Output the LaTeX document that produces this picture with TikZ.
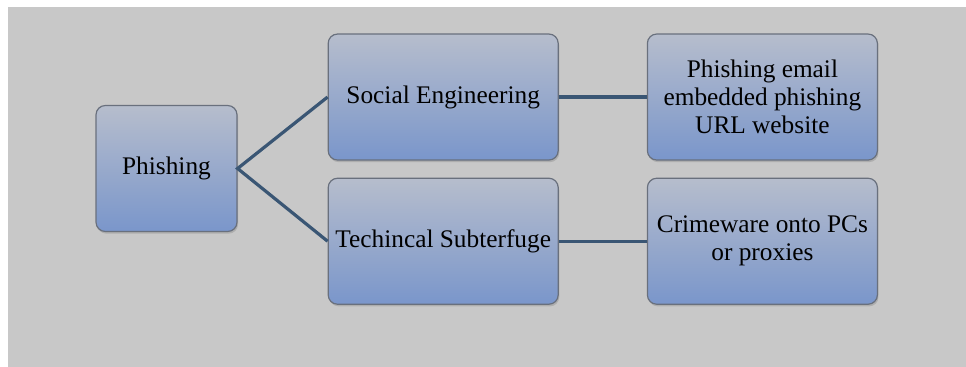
\documentclass[tikz,border=0pt]{standalone}
\usepackage{fontspec}
\setmainfont{Liberation Serif}
\usetikzlibrary{positioning, shadows}
\definecolor{boxtop}{RGB}{182,189,204}
\definecolor{boxmid}{RGB}{160,176,210}
\definecolor{boxbot}{RGB}{122,150,203}
\definecolor{boxline}{RGB}{105,112,125}
\definecolor{linkcol}{RGB}{58,86,116}
\definecolor{panel}{RGB}{200,200,200}
\tikzstyle{box} = [rectangle, rounded corners=7pt, minimum width=172.5pt, minimum height=94.5pt, align=center, text=black, draw=boxline, line width=0.9pt, top color=boxtop, middle color=boxmid, bottom color=boxbot, font=\fontsize{19}{21}\selectfont, drop shadow={opacity=0.35, shadow xshift=0.8pt, shadow yshift=-1.6pt}]
\tikzstyle{link} = [line width=2.4pt, draw=linkcol]

\begin{document}
\begin{tikzpicture}[x=0.75pt, y=-0.75pt]

    % Background panel
    \useasboundingbox (0,0) rectangle (966,367);
    \fill[white] (0,0) rectangle (966,367);
    \fill[panel] (8,7) rectangle (966,367);

    % Nodes
    \node (phishing) [box, minimum width=105.75pt] at (166.5,168.5) {Phishing};
    \node (soceng) [box, right=67.5pt of phishing, yshift=53.6pt] {Social Engineering};
    \node (techsub) [box, below=12.75pt of soceng] {Techincal Subterfuge};
    \node (phishmail) [box, right=66pt of soceng] {Phishing email\\embedded phishing\\URL website};
    \node (crimeware) [box, right=66pt of techsub] {Crimeware onto PCs\\or proxies};

    % Lines
    \draw [link] (soceng.west) -- (phishing.east) -- (techsub.west);
    \draw [link] (soceng) -- (phishmail);
    \draw [link] (techsub) -- (crimeware);

\end{tikzpicture}
\end{document}
